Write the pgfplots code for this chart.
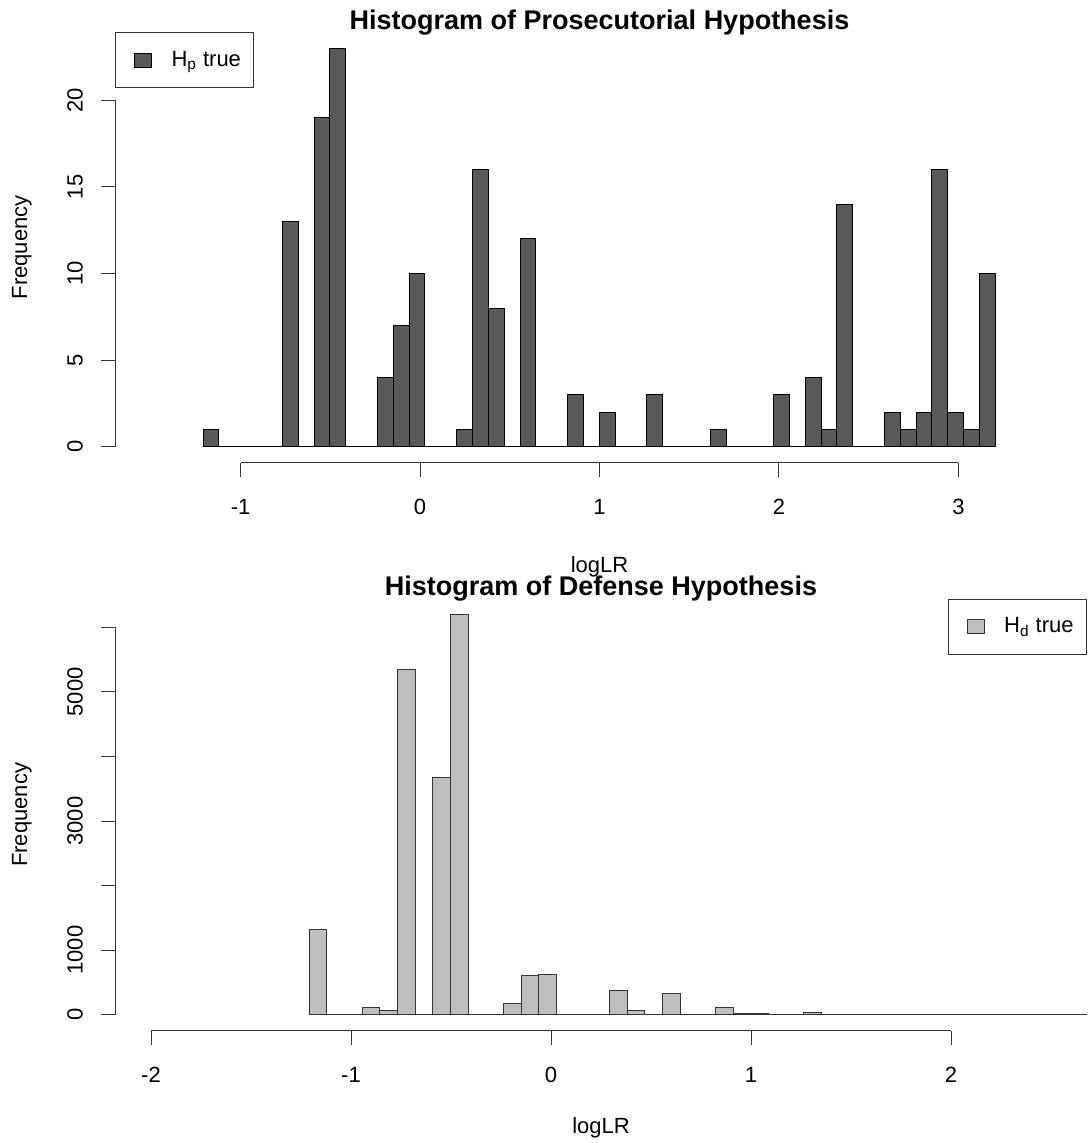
\documentclass[border=0pt]{standalone}
\usepackage{fontspec}
\setmainfont{Liberation Sans}
\usepackage{pgfplots}
\pgfplotsset{compat=1.18}
\definecolor{barA}{HTML}{595959}
\definecolor{barB}{HTML}{BEBEBE}
\definecolor{axc}{HTML}{333333}
\pgfplotsset{
  rstyle/.style={
    scale only axis,
    axis lines*=left,
    axis line style={draw=none},
    tick align=outside,
    major tick length=7.25pt,
    tick style={axc, line width=0.5pt},
    minor tick num=0,
    tick label style={font=\fontsize{11}{13}\selectfont, inner sep=0pt},
    xticklabel style={anchor=north, yshift=-11pt},
    yticklabel style={xshift=-8.6pt, rotate=90, anchor=south},
    every axis x label/.style={at={(axis description cs:0.5,0)}, anchor=north, yshift=-43.15pt, inner sep=0pt, font=\fontsize{11}{13}\selectfont},
    every axis y label/.style={at={(axis description cs:0,0.5)}, xshift=-51.65pt, rotate=90, anchor=north, inner sep=0pt, font=\fontsize{11}{13}\selectfont},
    every axis title/.style={at={(axis description cs:0.5,1)}, anchor=base, yshift=1.5pt, inner sep=0pt, font=\fontsize{13.5}{16}\selectfont\bfseries},
    legend style={draw=axc, line width=0.5pt, fill=white, inner xsep=0pt, inner ysep=0pt,
      font=\fontsize{11}{13}\selectfont, /tikz/column sep=0pt, /tikz/row sep=0pt,
      nodes={inner sep=0pt, anchor=west}},
  }
}
\begin{document}
\begin{tikzpicture}
\useasboundingbox (0pt,0pt) rectangle (545pt,571.5pt);
% ---------- top ----------
\begin{axis}[rstyle,
  at={(57.5pt,340.15pt)}, anchor=south west,
  width=484.5pt, height=215.25pt,
  xmin=-1.7, xmax=3.7, ymin=-0.92, ymax=23.92,
  xtick={-1,0,1,2,3}, xticklabels={-1,0,1,2,3},
  ytick={0,5,10,15,20}, yticklabels={0,5,10,15,20},
  title={Histogram of Prosecutorial Hypothesis},
  xlabel={logLR}, ylabel={Frequency},
  xlabel style={yshift=-3.5pt},
  legend style={at={(0,1)}, anchor=north west},
]
\addplot[ybar interval, fill=barA, draw=black, line width=0.5pt,
  legend image code/.code={
    \path[draw=none, fill=none] (-9.5pt,-13.675pt) rectangle (18.5pt,13.675pt);
    \filldraw[fill=barA, draw=black, line width=0.5pt] (0pt,-3.5pt) rectangle (8.5pt,3.5pt);
  }] table[x=e, y=n] {
e n
-1.2090 1
-1.1207 0
-1.0324 0
-0.9441 0
-0.8558 0
-0.7675 13
-0.6792 0
-0.5909 19
-0.5026 23
-0.4143 0
-0.3260 0
-0.2377 4
-0.1494 7
-0.0611 10
0.0272 0
0.1155 0
0.2038 1
0.2921 16
0.3804 8
0.4687 0
0.5570 12
0.6453 0
0.7336 0
0.8219 3
0.9102 0
0.9985 2
1.0868 0
1.1751 0
1.2634 3
1.3517 0
1.4400 0
1.5283 0
1.6166 1
1.7049 0
1.7932 0
1.8815 0
1.9698 3
2.0581 0
2.1464 4
2.2347 1
2.3230 14
2.4113 0
2.4996 0
2.5879 2
2.6762 1
2.7645 2
2.8528 16
2.9411 2
3.0294 1
3.1177 10
3.2060 0
};
\addlegendentry{H\textsubscript{p} true\hspace*{6.45pt}}
\coordinate (TxL) at (axis cs:-1,-0.92);
\coordinate (TxR) at (axis cs:3,-0.92);
\coordinate (TyB) at (axis cs:-1.7,0);
\coordinate (TyT) at (axis cs:-1.7,20);
\end{axis}
\draw[axc, line width=0.5pt] (TxL) -- (TxR);
\draw[axc, line width=0.5pt] (TyB) -- (TyT);
% ---------- bottom ----------
\begin{axis}[rstyle,
  at={(57.5pt,56.15pt)}, anchor=south west,
  width=486pt, height=215.85pt,
  xmin=-2.18, xmax=2.68, ymin=-247.6, ymax=6438.6,
  xtick={-2,-1,0,1,2}, xticklabels={-2,-1,0,1,2},
  ytick={0,1000,2000,3000,4000,5000,6000}, yticklabels={0,1000,,3000,,5000,},
  title={Histogram of Defense Hypothesis},
  xlabel={logLR}, ylabel={Frequency},
  legend style={at={(1,1)}, anchor=north east},
]
\addplot[ybar interval, fill=barB, draw=black!80, line width=0.5pt,
  legend image code/.code={
    \path[draw=none, fill=none] (-9.5pt,-13.675pt) rectangle (18.5pt,13.675pt);
    \filldraw[fill=barB, draw=black!80, line width=0.5pt] (0pt,-3.5pt) rectangle (8.5pt,3.5pt);
  }] table[x=e, y=n] {
e n
-1.2090 1318
-1.1207 0
-1.0324 0
-0.9441 110
-0.8558 60
-0.7675 5349
-0.6792 0
-0.5909 3679
-0.5026 6191
-0.4143 0
-0.3260 0
-0.2377 175
-0.1494 605
-0.0611 620
0.0272 0
0.1155 0
0.2038 0
0.2921 381
0.3804 62
0.4687 0
0.5570 335
0.6453 0
0.7336 0
0.8219 118
0.9102 15
0.9985 15
1.0868 0
1.1751 10
1.2634 31
1.3517 0
1.4400 0
1.5283 0
1.6166 0
1.7049 10
1.7932 0
1.8815 10
1.9698 10
2.0581 0
2.1464 0
2.2347 0
2.3230 0
2.4113 0
2.4996 0
2.5879 0
2.6762 0
2.7645 0
2.8528 0
2.9411 0
3.0294 0
3.1177 0
3.2060 0
};
\addlegendentry{H\textsubscript{d} true\hspace*{6.45pt}}
\coordinate (BxL) at (axis cs:-2,-247.6);
\coordinate (BxR) at (axis cs:2,-247.6);
\coordinate (ByB) at (axis cs:-2.18,0);
\coordinate (ByT) at (axis cs:-2.18,6000);
\end{axis}
\draw[axc, line width=0.5pt] (BxL) -- (BxR);
\draw[axc, line width=0.5pt] (ByB) -- (ByT);
\end{tikzpicture}
\end{document}
